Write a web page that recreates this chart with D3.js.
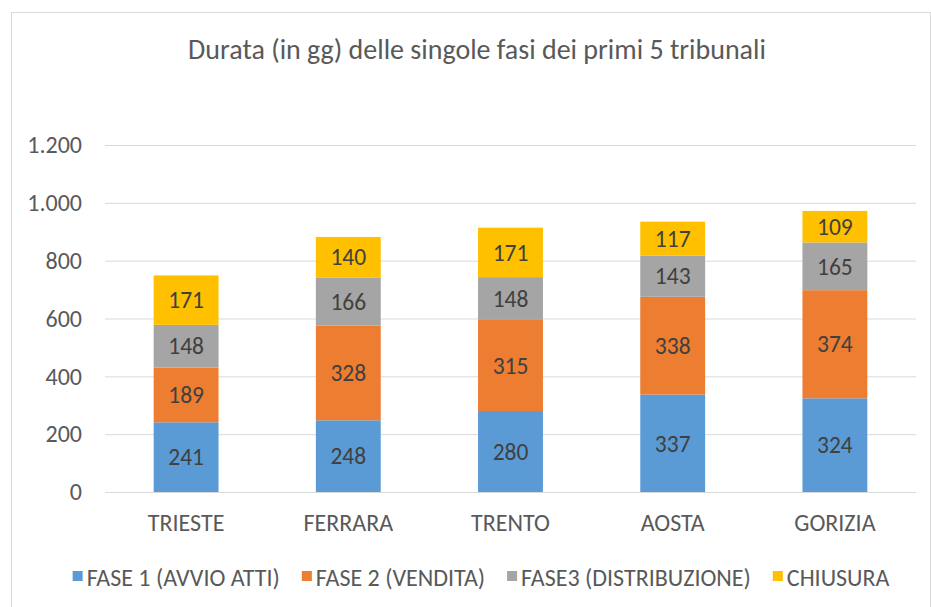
<!DOCTYPE html>
<html><head><meta charset="utf-8">
<script src="https://cdn.jsdelivr.net/npm/d3@7"></script>
<style>body{margin:0;background:#fff}svg{display:block}</style>
</head><body>
<script>
const categories = ["TRIESTE","FERRARA","TRENTO","AOSTA","GORIZIA"];
const seriesNames = ["FASE 1 (AVVIO ATTI)","FASE 2 (VENDITA)","FASE3 (DISTRIBUZIONE)","CHIUSURA"];
const fase1 = [241,248,280,337,324];
const fase2 = [189,328,315,338,374];
const fase3 = [148,166,148,143,165];
const chiusura = [171,140,171,117,109];
const yTicks = [0,200,400,600,800,1000,1200];
const colors = ["#5B9BD5","#ED7D31","#A5A5A5","#FFC000"];
const title = "Durata (in gg) delle singole fasi dei primi 5 tribunali";

const W=931,H=607;
const font = "Carlito, Calibri, Lato, 'Open Sans', sans-serif";
const svg = d3.select("body").append("svg").attr("width",W).attr("height",H);
svg.append("rect").attr("x",11.5).attr("y",12.5).attr("width",W-12).attr("height",H-12)
  .attr("fill","#fff").attr("stroke","#D9D9D9");

const m = {l:105,r:916,t:145,b:492};
const x = d3.scaleBand().domain(categories).range([m.l,m.r]).paddingInner(0.6).paddingOuter(0.3);
const y = d3.scaleLinear().domain([0,1200]).range([m.b,m.t]);

svg.append("text").attr("x",477).attr("y",59).attr("text-anchor","middle")
  .attr("font-family",font).attr("font-size",28).attr("fill","#595959").text(title);

const fmt = v => d3.format(",")(v).replace(/,/g,".");
const yAxis = d3.axisLeft(y).tickValues(yTicks).tickSize(-(m.r-m.l)).tickFormat(fmt).tickPadding(23);
const ga = svg.append("g").attr("transform",`translate(${m.l},0)`).call(yAxis);
ga.select(".domain").remove();
ga.selectAll(".tick line").attr("stroke","#D9D9D9").attr("stroke-width",1);
ga.selectAll(".tick text").attr("font-family",font).attr("font-size",24).attr("fill","#595959");

const xAxis = d3.axisBottom(x).tickSize(0).tickPadding(22);
const gx = svg.append("g").attr("transform",`translate(0,${m.b})`).call(xAxis);
gx.select(".domain").remove();
gx.selectAll(".tick text").attr("font-family",font).attr("font-size",24).attr("fill","#595959");

const rows = categories.map((c,i)=>({cat:c,s0:fase1[i],s1:fase2[i],s2:fase3[i],s3:chiusura[i]}));
const stack = d3.stack().keys(["s0","s1","s2","s3"])(rows);
stack.forEach((layer,k)=>{
  const g = svg.append("g");
  g.selectAll("rect").data(layer).join("rect")
    .attr("x",d=>x(d.data.cat)).attr("width",x.bandwidth())
    .attr("y",d=>y(d[1])).attr("height",d=>y(d[0])-y(d[1])).attr("fill",colors[k]);
  g.selectAll("text").data(layer).join("text")
    .attr("x",d=>x(d.data.cat)+x.bandwidth()/2).attr("y",d=>(y(d[0])+y(d[1]))/2)
    .attr("dy","0.35em").attr("text-anchor","middle")
    .attr("font-family",font).attr("font-size",23.5).attr("fill","#404040")
    .text(d=>d[1]-d[0]);
});

const lg = svg.append("g");
const items = seriesNames.map((n,i)=>{
  const gi = lg.append("g");
  gi.append("rect").attr("width",10).attr("height",10).attr("y",-15).attr("fill",colors[i]);
  const t = gi.append("text").attr("x",14).attr("y",0).attr("font-family",font).attr("font-size",24)
    .attr("fill","#595959").text(n);
  return {g:gi,w:14+t.node().getComputedTextLength()};
});
const gap=22;
const total = d3.sum(items,d=>d.w)+gap*(items.length-1);
let cx = 481 - total/2;
items.forEach(it=>{it.g.attr("transform",`translate(${cx},586)`);cx+=it.w+gap;});
</script>
</body></html>
